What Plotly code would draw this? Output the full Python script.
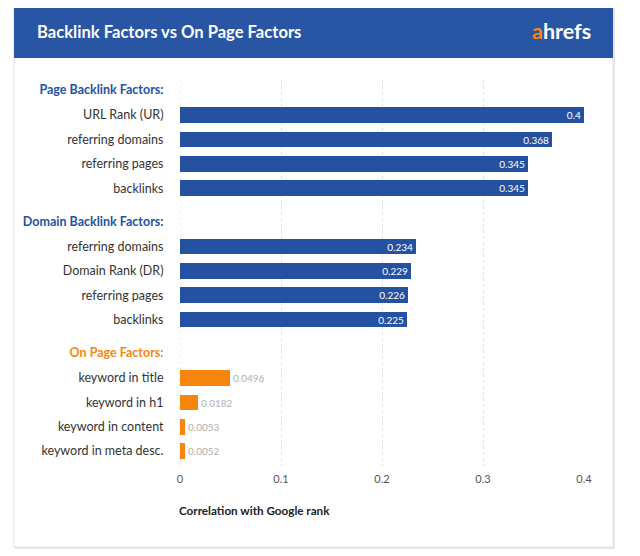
import plotly.graph_objects as go

# ---- data ----
group_names = ["Page Backlink Factors:", "Domain Backlink Factors:", "On Page Factors:"]
group_colors = ["#2452A0", "#2452A0", "#F7860F"]
page_labels = ["URL Rank (UR)", "referring domains", "referring pages", "backlinks"]
page_values = [0.4, 0.368, 0.345, 0.345]
domain_labels = ["referring domains", "Domain Rank (DR)", "referring pages", "backlinks"]
domain_values = [0.234, 0.229, 0.226, 0.225]
onpage_labels = ["keyword in title", "keyword in h1", "keyword in content", "keyword in meta desc."]
onpage_values = [0.0496, 0.0182, 0.0053, 0.0052]
x_ticks = [0, 0.1, 0.2, 0.3, 0.4]
x_ticktext = ["0", "0.1", "0.2", "0.3", "0.4"]

groups = [page_labels, domain_labels, onpage_labels]
values = [page_values, domain_values, onpage_values]

W, H = 640, 556
OFF = 8  # page body margin offset
L, R, T, B = 180 - OFF, 56 + OFF, 80 - OFF, 90 + OFF
PW, PH = W - L - R, H - T - B

def px(x):
    return (x - OFF - L) / PW

def py(y):
    return (H - B - (y - OFF)) / PH

GROUP_STEP = 5.4
HEAD_OFF = 1.03
ROW_PX = 24.35

fig = go.Figure()
tickvals, ticktext = [], []
for g, (labels, vals) in enumerate(zip(groups, values)):
    base = g * GROUP_STEP
    tickvals.append(base)
    ticktext.append(f"<span style='color:{group_colors[g]}'><b>{group_names[g]}</b></span>")
    ys = [base + HEAD_OFF + i for i in range(len(labels))]
    tickvals += ys
    ticktext += labels
    is_orange = g == 2
    fig.add_trace(go.Bar(
        x=vals, y=ys, orientation="h", width=0.645,
        marker=dict(color=group_colors[g], line=dict(width=0)),
        text=[str(v) for v in vals],
        textposition="outside" if is_orange else "inside",
        insidetextanchor="end",
        textfont=dict(family="Lato", size=10, color="#b0b0b0" if is_orange else "white"),
        cliponaxis=False, showlegend=False, hoverinfo="skip",
    ))

y_top = (80 - 90) / ROW_PX
y_bot = (466 - 90) / ROW_PX

shapes = [
    # card shadow
    dict(type="rect", xref="paper", yref="paper", x0=px(15), x1=px(615), y0=py(549), y1=py(7),
         fillcolor="#e8e8e8", line=dict(width=0), layer="below"),
    # card
    dict(type="rect", xref="paper", yref="paper", x0=px(14), x1=px(613), y0=py(547), y1=py(6),
         fillcolor="white", line=dict(color="#e2e2e2", width=1), layer="below"),
    # header band
    dict(type="rect", xref="paper", yref="paper", x0=px(14), x1=px(613), y0=py(58), y1=py(6),
         fillcolor="#2855A4", line=dict(width=0), layer="below"),
    # gridline at zero
    dict(type="line", xref="x", yref="paper", x0=x_ticks[0], x1=x_ticks[0], y0=0, y1=1,
         line=dict(color="#e0e0e0", width=1, dash="dot"), layer="below"),
]

annotations = [
    dict(text="Backlink Factors vs On Page Factors", xref="paper", yref="paper",
         x=px(35), y=py(32), xanchor="left", yanchor="middle", showarrow=False,
         font=dict(family="Lato", size=16.6, color="white", weight="bold")),
    dict(text="<span style='color:#F7860F'>a</span>hrefs", xref="paper", yref="paper",
         x=px(593), y=py(31), xanchor="right", yanchor="middle", showarrow=False,
         font=dict(family="Lato", size=21.5, color="white", weight="bold")),
    dict(text="<b>Correlation with Google rank</b>", xref="paper", yref="paper",
         x=px(177), y=py(510), xanchor="left", yanchor="middle", showarrow=False,
         font=dict(family="Lato", size=11.7, color="#222222")),
]

fig.update_layout(
    width=W, height=H,
    margin=dict(l=L, r=R, t=T, b=B, pad=0),
    paper_bgcolor="white", plot_bgcolor="rgba(0,0,0,0)",
    shapes=shapes, annotations=annotations,
    bargap=0,
    uniformtext=dict(minsize=10, mode="show"),
    xaxis=dict(range=[0, 0.4], tickvals=x_ticks, ticktext=x_ticktext,
               showgrid=True, gridcolor="#e0e0e0", griddash="dot", gridwidth=1,
               zeroline=False, showline=False,
               ticks="outside", ticklen=3, tickcolor="rgba(0,0,0,0)",
               tickfont=dict(family="Lato", size=11, color="#555555"), fixedrange=True),
    yaxis=dict(range=[y_bot, y_top], tickvals=tickvals, ticktext=ticktext,
               showgrid=False, zeroline=False, showline=False,
               ticks="outside", ticklen=13, tickcolor="rgba(0,0,0,0)",
               tickfont=dict(family="Lato", size=12.5, color="#333333")),
)

fig.write_html("out.html")
